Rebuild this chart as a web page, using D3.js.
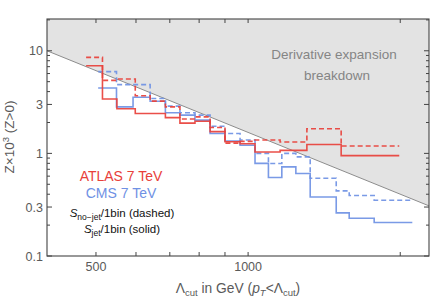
<!DOCTYPE html>
<html><head><meta charset="utf-8">
<script src="https://cdn.jsdelivr.net/npm/d3@7"></script>
<style>body{margin:0;background:#fff}svg{display:block;font-family:"Liberation Sans",Arial,sans-serif}</style>
</head><body>
<svg id="c" width="434" height="298"></svg>
<script>
// ---- data ----
const atlasEdges = [478, 515, 550, 598, 640, 686, 733, 785, 841, 900, 964, 1032, 1157, 1307, 1528, 1991];
const atlasNoJet = [8.62, 5.15, 5.3, 3.64, 3.23, 2.84, 2.16, 2.27, 1.79, 1.26, 1.31, 1.35, 1.29, 1.74, 1.18];
const atlasJet   = [7.14, 3.39, 2.72, 2.45, 2.45, 2.23, 1.97, 2.06, 1.63, 1.30, 1.24, 1.03, 1.07, 1.22, 0.95];
const cmsEdges = [505, 549, 592, 640, 686, 733, 785, 841, 900, 964, 1032, 1097, 1166, 1243, 1327, 1494, 1585, 1776, 2113];
const cmsNoJet = [6.27, 4.68, 4.68, 3.43, 2.89, 2.49, 2.36, 1.84, 1.56, 1.35, 1.0, 0.797, 1.0, 0.925, 0.573, 0.431, 0.389, 0.349];
const cmsJet   = [4.33, 2.84, 3.52, 3.22, 2.49, 2.36, 2.11, 1.56, 1.32, 1.20, 0.799, 0.582, 0.739, 0.637, 0.376, 0.263, 0.233, 0.212];
const breakdownLine = [[400, 10], [2280, 0.308]];
const xTicks = [500, 600, 700, 800, 900, 1000, 2000];
const xTickLabels = [500, 1000];
const yTickLabels = [0.1, 0.3, 1, 3, 10];
const yMinorTicks = [0.2,0.4,0.5,0.6,0.7,0.8,0.9,2,4,5,6,7,8,9,20];

// ---- layout ----
const W = 434, H = 298, L = 47, T = 19, R = 429, B = 256;
const svg = d3.select("#c");
const x = d3.scaleLog().domain([400, 2280]).range([L, R]);
const y = d3.scaleLog().domain([0.1, 20.4]).range([B, T]);

const RED = "#e8403a", BLUE = "#6f91e4";

svg.append("defs").append("clipPath").attr("id","clip")
  .append("rect").attr("x",L).attr("y",T).attr("width",R-L).attr("height",B-T);

const g = svg.append("g").attr("clip-path","url(#clip)");

// shaded region above the line
const [p0, p1] = breakdownLine;
g.append("path")
  .attr("d", `M${x(p0[0])},${y.range()[1]}L${x(p0[0])},${y(p0[1])}L${x(p1[0])},${y(p1[1])}L${x(p1[0])},${y.range()[1]}Z`)
  .attr("fill", "#e3e3e3");
g.append("line")
  .attr("x1", x(p0[0])).attr("y1", y(p0[1])).attr("x2", x(p1[0])).attr("y2", y(p1[1]))
  .attr("stroke", "#8c8c8c").attr("stroke-width", 1);

// step lines
function steps(edges, vals) {
  const pts = vals.map((v, i) => [edges[i], v]);
  pts.push([edges[vals.length], vals[vals.length - 1]]);
  return pts;
}
const stepLine = d3.line().x(d => x(d[0])).y(d => y(d[1])).curve(d3.curveStepAfter);
const series = [
  {e: cmsEdges, v: cmsNoJet, c: BLUE, dash: "5,3"},
  {e: cmsEdges, v: cmsJet, c: BLUE, dash: null},
  {e: atlasEdges, v: atlasNoJet, c: RED, dash: "5,3"},
  {e: atlasEdges, v: atlasJet, c: RED, dash: null}
];
series.forEach(s => {
  g.append("path").attr("d", stepLine(steps(s.e, s.v)))
    .attr("fill", "none").attr("stroke", s.c).attr("stroke-width", 1.6)
    .attr("stroke-dasharray", s.dash).attr("stroke-opacity", 0.92);
});

// frame
svg.append("rect").attr("x", L).attr("y", T).attr("width", R-L).attr("height", B-T)
  .attr("fill", "none").attr("stroke", "#444").attr("stroke-width", 1.1);

// ticks
const tk = svg.append("g").attr("stroke", "#444").attr("stroke-width", 1);
xTicks.forEach(v => {
  tk.append("line").attr("x1", x(v)).attr("x2", x(v)).attr("y1", B).attr("y2", B-4);
  tk.append("line").attr("x1", x(v)).attr("x2", x(v)).attr("y1", T).attr("y2", T+4);
});
yTickLabels.forEach(v => {
  tk.append("line").attr("x1", L).attr("x2", L+5).attr("y1", y(v)).attr("y2", y(v));
  tk.append("line").attr("x1", R).attr("x2", R-5).attr("y1", y(v)).attr("y2", y(v));
});
yMinorTicks.forEach(v => {
  tk.append("line").attr("x1", L).attr("x2", L+3).attr("y1", y(v)).attr("y2", y(v));
  tk.append("line").attr("x1", R).attr("x2", R-3).attr("y1", y(v)).attr("y2", y(v));
});

// tick labels
const lab = svg.append("g").attr("fill", "#5a5a5a").attr("font-size", 12.5);
xTickLabels.forEach(v => {
  lab.append("text").attr("x", x(v)).attr("y", B+15).attr("text-anchor", "middle").text(v);
});
yTickLabels.forEach(v => {
  lab.append("text").attr("x", L-4).attr("y", y(v)+4.5).attr("text-anchor", "end").text(v);
});

// axis titles
const xt = svg.append("text").attr("x", 238).attr("y", 293).attr("text-anchor", "middle")
  .attr("fill", "#5a5a5a").attr("font-size", 13.8);
xt.append("tspan").text("Λ");
xt.append("tspan").attr("font-size", 9.5).attr("dy", 3).text("cut");
xt.append("tspan").attr("dy", -3).text(" in GeV (");
xt.append("tspan").attr("font-style", "italic").text("p");
xt.append("tspan").attr("font-size", 9.5).attr("font-style", "italic").attr("dy", 3).text("T");
xt.append("tspan").attr("dy", -3).text("<Λ");
xt.append("tspan").attr("font-size", 9.5).attr("dy", 3).text("cut");
xt.append("tspan").attr("dy", -3).text(")");

const yt = svg.append("text").attr("transform", "translate(14,137) rotate(-90)")
  .attr("text-anchor", "middle").attr("fill", "#5a5a5a").attr("font-size", 13.5);
yt.append("tspan").text("Z×10");
yt.append("tspan").attr("font-size", 9.5).attr("dy", -5).text("3");
yt.append("tspan").attr("dy", 5).text(" (Z>0)");

// breakdown annotation
const an = svg.append("g").attr("fill", "#858585").attr("font-size", 13.5).attr("text-anchor", "middle");
an.append("text").attr("x", 334).attr("y", 59).text("Derivative expansion");
an.append("text").attr("x", 337).attr("y", 80).text("breakdown");

// legend
svg.append("text").attr("x", 121).attr("y", 181).attr("text-anchor", "middle")
  .attr("fill", RED).attr("font-size", 14).text("ATLAS 7 TeV");
svg.append("text").attr("x", 121).attr("y", 198).attr("text-anchor", "middle")
  .attr("fill", BLUE).attr("font-size", 14).text("CMS 7 TeV");
const l1 = svg.append("text").attr("x", 122).attr("y", 217).attr("text-anchor", "middle")
  .attr("fill", "#111").attr("font-size", 11.5);
l1.append("tspan").attr("font-style", "italic").text("S");
l1.append("tspan").attr("font-size", 8.5).attr("dy", 2.5).text("no−jet");
l1.append("tspan").attr("dy", -2.5).text("/1bin (dashed)");
const l2 = svg.append("text").attr("x", 122).attr("y", 233).attr("text-anchor", "middle")
  .attr("fill", "#111").attr("font-size", 11.5);
l2.append("tspan").attr("font-style", "italic").text("S");
l2.append("tspan").attr("font-size", 8.5).attr("dy", 2.5).text("jet");
l2.append("tspan").attr("dy", -2.5).text("/1bin (solid)");
</script>
</body></html>
